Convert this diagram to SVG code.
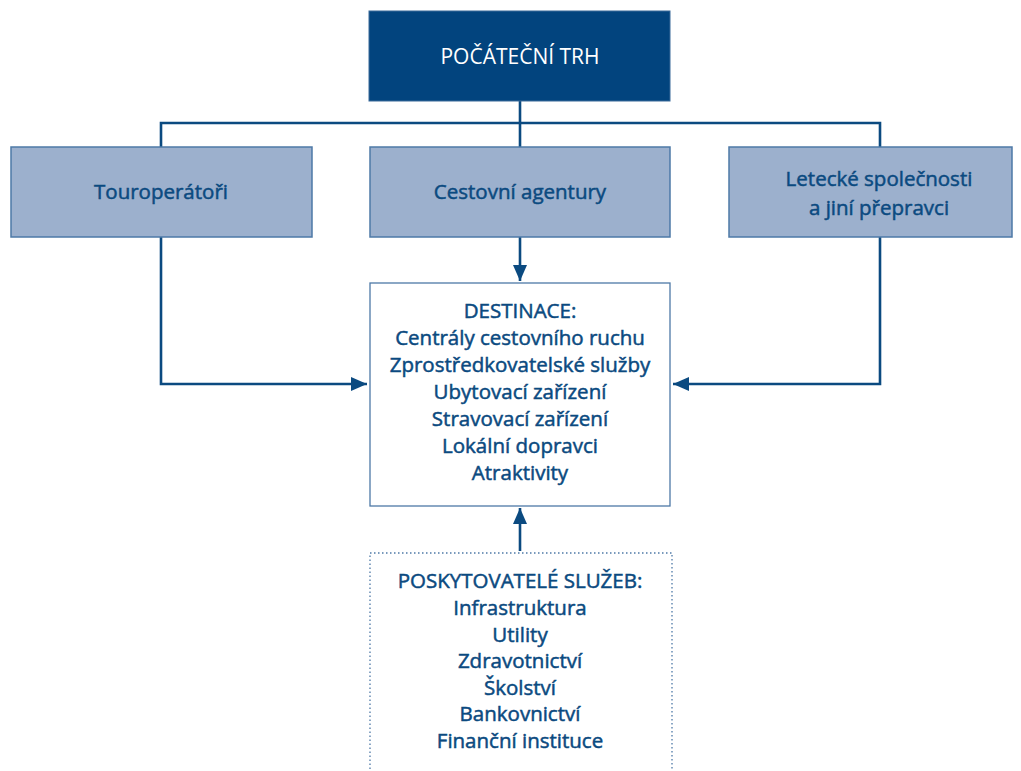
<svg xmlns="http://www.w3.org/2000/svg" width="1021" height="771" viewBox="0 0 1021 771">
<defs>
<style>
.t{font-family:"Open Sans","Noto Sans","Liberation Sans",sans-serif;font-size:20.5px;font-weight:400;fill:#0b4a80;stroke:#0b4a80;stroke-width:0.5;text-anchor:middle}
.w{fill:#ffffff;stroke:none;font-size:21px}
.mid{fill:#9cb0cd;stroke:#4d79a7;stroke-width:1.5}
.ln{fill:none;stroke:#0b4a80;stroke-width:2.6}
</style>
<marker id="ah" markerWidth="16" markerHeight="14" refX="16" refY="7" orient="auto" markerUnits="userSpaceOnUse">
<path d="M0,0 L16,7 L0,14 Z" fill="#0b4a80"/>
</marker>
</defs>
<rect width="1021" height="771" fill="#ffffff"/>
<g id="connectors">
<path class="ln" d="M520,101 V237"/>
<path class="ln" d="M161,147 V123 H880 V147"/>
<path class="ln" d="M520,237 V281" marker-end="url(#ah)"/>
<path class="ln" d="M161,237 V384 H367" marker-end="url(#ah)"/>
<path class="ln" d="M880,237 V384 H673" marker-end="url(#ah)"/>
<path class="ln" d="M520,551 V508" marker-end="url(#ah)"/>
</g>
<g id="pocatecni-trh">
<rect x="369" y="11" width="301" height="90" fill="#02447e" stroke="#3a6a9a" stroke-width="1"/>
<text class="t w" x="520" y="64">POČÁTEČNÍ TRH</text>
</g>
<g id="touroperatori">
<rect class="mid" x="11" y="147" width="301" height="90"/>
<text class="t" x="161" y="199">Touroperátoři</text>
</g>
<g id="cestovni-agentury">
<rect class="mid" x="370" y="147" width="300" height="90"/>
<text class="t" x="520" y="199">Cestovní agentury</text>
</g>
<g id="letecke">
<rect class="mid" x="729" y="147" width="283" height="90"/>
<text class="t" x="879" y="186">Letecké společnosti</text>
<text class="t" x="879" y="215">a jiní přepravci</text>
</g>
<g id="destinace">
<rect x="370" y="283" width="300" height="223" fill="#ffffff" stroke="#4d79a7" stroke-width="1.3"/>
<text class="t" x="520" y="318">DESTINACE:</text>
<text class="t" x="520" y="345">Centrály cestovního ruchu</text>
<text class="t" x="520" y="372">Zprostředkovatelské služby</text>
<text class="t" x="520" y="399">Ubytovací zařízení</text>
<text class="t" x="520" y="426">Stravovací zařízení</text>
<text class="t" x="520" y="453">Lokální dopravci</text>
<text class="t" x="520" y="480">Atraktivity</text>
</g>
<g id="poskytovatele">
<rect x="370" y="553" width="302" height="240" fill="#ffffff" stroke="#4d79a7" stroke-width="1.3" stroke-dasharray="1.5,2.5"/>
<text class="t" x="520" y="588">POSKYTOVATELÉ SLUŽEB:</text>
<text class="t" x="520" y="615">Infrastruktura</text>
<text class="t" x="520" y="642">Utility</text>
<text class="t" x="520" y="668">Zdravotnictví</text>
<text class="t" x="520" y="695">Školství</text>
<text class="t" x="520" y="721">Bankovnictví</text>
<text class="t" x="520" y="748">Finanční instituce</text>
</g>
</svg>
